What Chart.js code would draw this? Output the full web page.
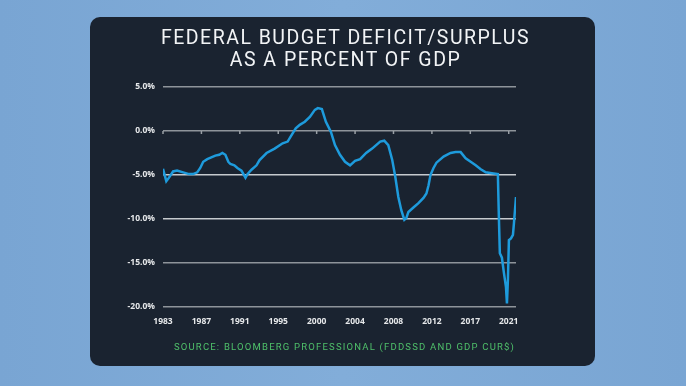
<!DOCTYPE html>
<html>
<head>
<meta charset="utf-8">
<script src="https://cdn.jsdelivr.net/npm/chart.js@4"></script>
<style>
  html, body { margin: 0; padding: 0; }
  body {
    width: 686px; height: 386px; overflow: hidden; position: relative;
    background: linear-gradient(90deg, #79a5d3 0%, #82add9 50%, #79a5d3 100%);
  }
  .panel {
    position: absolute; left: 90px; top: 17px; width: 505px; height: 349px;
    background: #1a2330; border-radius: 10px;
  }
  .title {
    position: absolute; left: 93px; top: 27px; width: 505px; text-align: center;
    color: #f2f4f6; font-family: Roboto, sans-serif; font-size: 19.5px;
    letter-spacing: 1.5px; line-height: 22px;
  }
  .source {
    position: absolute; left: 92px; top: 341px; width: 505px; text-align: center;
    color: #4fc06a; font-family: Roboto, sans-serif; font-size: 9.5px; letter-spacing: 1.2px;
  }
  #chart { position: absolute; left: 90px; top: 17px; }
</style>
</head>
<body>
<div class="panel"></div>
<canvas id="chart" width="505" height="349"></canvas>
<div class="title">FEDERAL BUDGET DEFICIT/SURPLUS<br>AS A PERCENT OF GDP</div>
<div class="source">SOURCE: BLOOMBERG PROFESSIONAL (FDDSSD AND GDP CUR$)</div>
<script>
// decimal year of each reading
const years = [
  1983.00, 1983.37, 1983.67, 1984.12, 1984.57, 1985.24, 1985.91, 1986.36, 1986.81, 1987.15,
  1987.48, 1987.93, 1988.38, 1988.83, 1989.27, 1989.61, 1989.95, 1990.28, 1990.51, 1990.95,
  1991.29, 1991.74, 1992.19, 1992.41, 1992.86, 1993.42, 1993.76, 1994.54, 1995.44, 1996.33,
  1996.89, 1997.34, 1997.79, 1998.24, 1998.80, 1999.36, 1999.92, 2000.25, 2000.70, 2001.15,
  2001.71, 2002.16, 2002.72, 2003.28, 2003.84, 2004.40, 2004.96, 2005.63, 2006.30, 2007.20,
  2007.65, 2008.10, 2008.54, 2008.88, 2009.22, 2009.55, 2009.89, 2010.11, 2010.34, 2010.90,
  2011.46, 2012.02, 2012.35, 2012.58, 2012.80, 2013.14, 2013.47, 2014.26, 2015.04, 2015.60,
  2016.16, 2016.72, 2017.28, 2017.84, 2018.40, 2018.96, 2019.64, 2020.31, 2020.42, 2020.53,
  2020.76, 2020.98, 2021.21, 2021.32, 2021.43, 2021.54, 2021.77, 2021.99, 2022.10, 2022.33
];
// deficit (-) / surplus (+) as % of GDP
const deficitPct = [
  -4.3, -5.7, -5.3, -4.6, -4.5, -4.7, -4.9, -4.9, -4.7, -4.2,
  -3.5, -3.2, -3.0, -2.8, -2.7, -2.5, -2.7, -3.5, -3.75, -3.9,
  -4.2, -4.5, -5.3, -4.9, -4.4, -3.9, -3.3, -2.5, -2.0, -1.4,
  -1.2, -0.45, 0.3, 0.7, 1.05, 1.6, 2.4, 2.6, 2.5, 1.05,
  -0.1, -1.6, -2.7, -3.5, -3.9, -3.4, -3.2, -2.5, -2.0, -1.2,
  -1.1, -1.6, -3.3, -5.2, -7.5, -9.0, -10.1, -9.9, -9.2, -8.7,
  -8.2, -7.6, -7.1, -6.2, -5.0, -4.2, -3.6, -2.9, -2.5, -2.4,
  -2.4, -3.1, -3.5, -3.9, -4.35, -4.7, -4.8, -4.9, -9.7, -13.9,
  -14.4, -16.1, -17.7, -19.6, -16.9, -12.4, -12.2, -11.8, -10.5, -7.5
];
const xTickYears = [1983, 1987.28, 1991.56, 1995.84, 2000.12, 2004.40, 2008.68, 2012.96, 2017.24, 2021.52];
const xTickLabels = ['1983', '1987', '1991', '1995', '2000', '2004', '2008', '2012', '2017', '2021'];
const yTicks = [-20, -15, -10, -5, 0, 5];

const gridColor = v => (v === -5 || v === -10) ? '#c6cace' : '#8e949a';

// little tick marks hanging off the 0% line
const zeroTicks = {
  id: 'zeroTicks',
  beforeDatasetsDraw(chart) {
    const { ctx, scales: { x, y } } = chart;
    const y0 = y.getPixelForValue(0);
    ctx.save();
    ctx.strokeStyle = '#9aa0a6';
    ctx.lineWidth = 1.5;
    xTickYears.forEach(v => {
      const px = x.getPixelForValue(v);
      ctx.beginPath();
      ctx.moveTo(px, y0);
      ctx.lineTo(px, y0 + 3);
      ctx.stroke();
    });
    ctx.restore();
  }
};

new Chart(document.getElementById('chart'), {
  type: 'line',
  data: {
    datasets: [{
      data: years.map((yr, i) => ({ x: yr, y: deficitPct[i] })),
      borderColor: '#1e9bdc',
      borderWidth: 2.5,
      pointRadius: 0,
      tension: 0,
      fill: false
    }]
  },
  options: {
    responsive: false,
    animation: false,
    layout: { padding: { top: 70, right: 79, bottom: 34, left: 0 } },
    plugins: { legend: { display: false }, tooltip: { enabled: false } },
    scales: {
      x: {
        type: 'linear',
        min: 1983,
        max: 2022.33,
        afterBuildTicks: scale => { scale.ticks = xTickYears.map(v => ({ value: v })); },
        afterFit: scale => { scale.height = 25; },
        grid: { display: false, drawTicks: false },
        border: { display: false },
        ticks: {
          autoSkip: false, maxRotation: 0, padding: 9,
          color: '#e6e8ea',
          font: { family: 'Open Sans', size: 8.5, weight: 'bold' },
          callback: (v, i) => xTickLabels[i]
        }
      },
      y: {
        min: -20,
        max: 5,
        afterBuildTicks: scale => { scale.ticks = yTicks.map(v => ({ value: v })); },
        afterFit: scale => { scale.width = 73; },
        grid: {
          drawTicks: false,
          lineWidth: 1.5,
          color: c => gridColor(c.tick.value)
        },
        border: { display: false },
        ticks: {
          padding: 8,
          color: '#e6e8ea',
          font: { family: 'Open Sans', size: 8.5, weight: 'bold' },
          callback: v => v.toFixed(1) + '%'
        }
      }
    }
  },
  plugins: [zeroTicks]
});
</script>
</body>
</html>
